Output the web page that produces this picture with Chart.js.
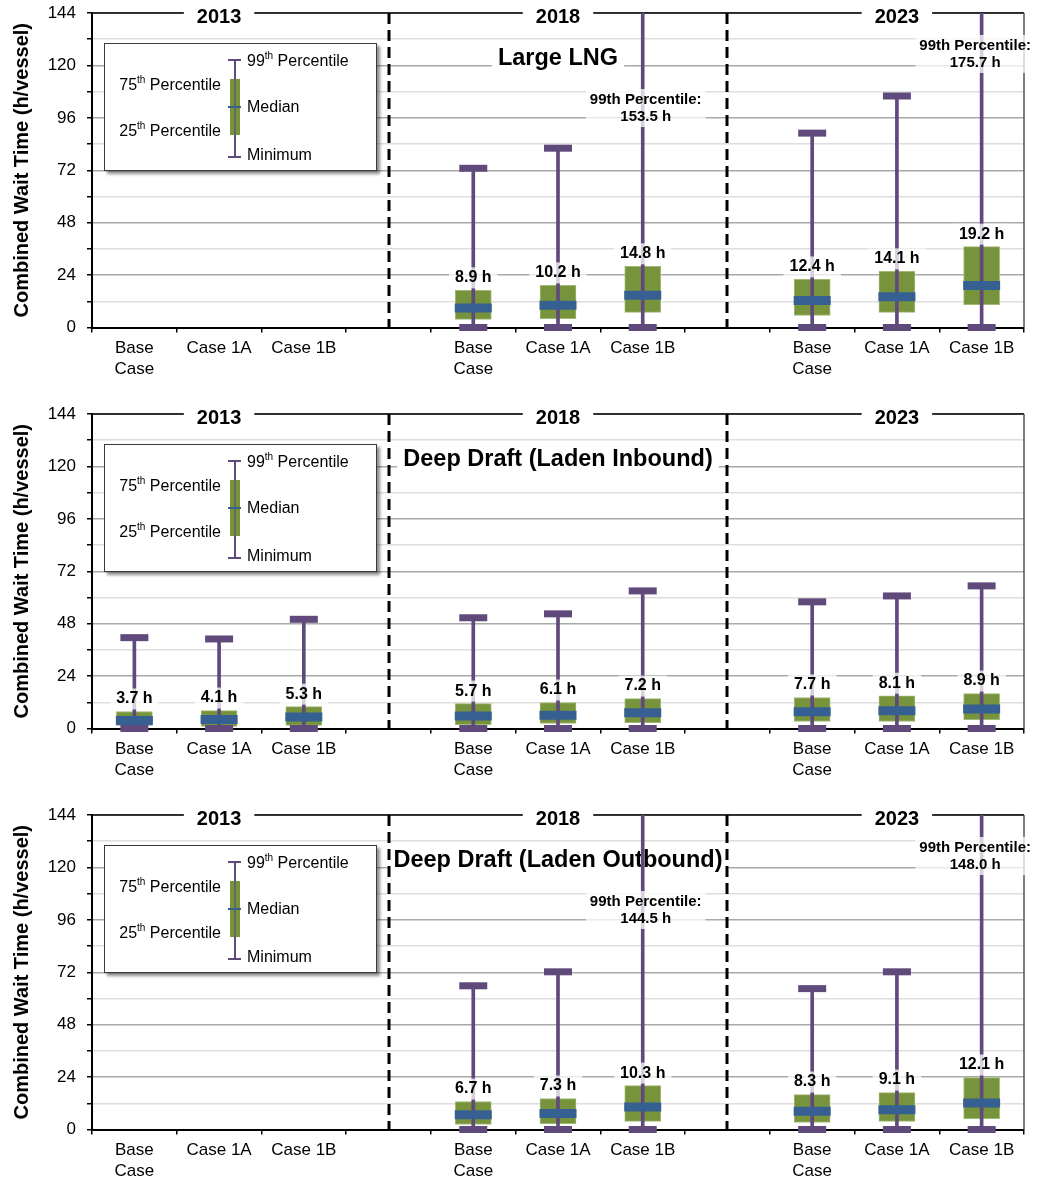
<!DOCTYPE html>
<html>
<head>
<meta charset="utf-8">
<script src="https://cdn.jsdelivr.net/npm/chart.js@4/dist/chart.umd.min.js"></script>
<style>
html,body{margin:0;padding:0;background:#fff;overflow:hidden;}
.panel{position:relative;width:1042px;height:401px;}
.panel canvas{position:absolute;left:0;top:0;}
.legend{position:absolute;left:104px;top:43px;width:271px;height:126px;border:1px solid #3a3a3a;background:#fff;box-shadow:3px 3px 3px rgba(0,0,0,0.45);font-family:"Liberation Sans",Arial,sans-serif;font-size:16px;color:#000;}
.legend .t{position:absolute;line-height:18px;white-space:nowrap;}
.legend sup{font-size:10px;line-height:0;position:relative;top:-1px;}
.legend .g{position:absolute;}
</style>
</head>
<body>
<div class="panel"><canvas id="c1" width="1042" height="401"></canvas><div class="legend" id="l1"></div></div>
<div class="panel"><canvas id="c2" width="1042" height="401"></canvas><div class="legend" id="l2"></div></div>
<div class="panel"><canvas id="c3" width="1042" height="401"></canvas><div class="legend" id="l3"></div></div>
<script>
// ---------- data ----------
const categories = [['Base','Case'], 'Case 1A', 'Case 1B', '', ['Base','Case'], 'Case 1A', 'Case 1B', '', ['Base','Case'], 'Case 1A', 'Case 1B'];
const years = ['2013', '2018', '2023'];
const yearCenterIndex = [1, 5, 9];
const separatorIndex = [3, 7];
const titleIndex = 5;
const Y_MAX = 144;
const Y_STEP = 12;
const Y_LABEL_STEP = 24;
const yTitle = 'Combined Wait Time (h/vessel)';

const panelTitles = ['Large LNG', 'Deep Draft (Laden Inbound)', 'Deep Draft (Laden Outbound)'];

// Large LNG
const lngMin    = [null, null, null, null, 0,    0,    0,     null, 0,    0,    0];
const lngQ1     = [null, null, null, null, 3.7,  4.1,  6.9,   null, 5.5,  6.9,  10.5];
const lngMedian = [null, null, null, null, 8.9,  10.2, 14.8,  null, 12.4, 14.1, 19.2];
const lngQ3     = [null, null, null, null, 17.0, 19.3, 28.0,  null, 22.0, 25.7, 37.0];
const lngP99    = [null, null, null, null, 72.9, 82.1, 153.5, null, 89.0, 106.0, 175.7];

// Deep Draft (Laden Inbound)
const inMin    = [0,    0,    0,    null, 0,    0,    0,    null, 0,    0,    0];
const inQ1     = [1.4,  1.0,  1.4,  null, 1.8,  2.3,  2.7,  null, 3.2,  3.2,  4.1];
const inMedian = [3.7,  4.1,  5.3,  null, 5.7,  6.1,  7.2,  null, 7.7,  8.1,  8.9];
const inQ3     = [7.8,  8.2,  10.0, null, 11.4, 11.9, 13.7, null, 14.2, 15.0, 16.0];
const inP99    = [41.6, 41.0, 50.0, null, 50.7, 52.5, 63.0, null, 58.0, 60.7, 65.3];

// Deep Draft (Laden Outbound)
const outMin    = [null, null, null, null, 0,    0,    0,     null, 0,    0,    0];
const outQ1     = [null, null, null, null, 2.3,  2.7,  3.7,   null, 3.2,  3.7,  5.0];
const outMedian = [null, null, null, null, 6.7,  7.3,  10.3,  null, 8.3,  9.1,  12.1];
const outQ3     = [null, null, null, null, 12.8, 14.2, 20.1,  null, 16.0, 16.9, 23.8];
const outP99    = [null, null, null, null, 65.8, 72.2, 144.5, null, 64.5, 72.2, 148.0];

// ---------- style ----------
const FONT = '"Liberation Sans", Arial, sans-serif';
const GREEN = '#77933C', BLUE = '#376092', PURPLE = '#604A7B';
Chart.defaults.font.family = FONT;
Chart.defaults.color = '#000';

const overlayPlugin = {
  id: 'overlay',
  beforeDatasetsDraw(chart, args, opts) {
    const {ctx, chartArea: a, scales: {x}} = chart;
    ctx.save();
    // plot frame top/right
    ctx.strokeStyle = '#000'; ctx.lineWidth = 1.5;
    ctx.beginPath(); ctx.moveTo(a.left, a.top); ctx.lineTo(a.right, a.top); ctx.stroke();
    ctx.strokeStyle = '#555'; ctx.lineWidth = 1.5;
    ctx.beginPath(); ctx.moveTo(a.right, a.top); ctx.lineTo(a.right, a.bottom); ctx.stroke();
    // title background
    ctx.font = 'bold 23.5px ' + FONT;
    ctx.textAlign = 'center'; ctx.textBaseline = 'middle';
    const tx = x.getPixelForValue(titleIndex), ty = a.top + 46;
    const tw = ctx.measureText(opts.title).width;
    ctx.fillStyle = '#fff';
    ctx.fillRect(tx - tw / 2 - 6, ty - 14, tw + 12, 28);
    // dashed separators
    ctx.setLineDash([11, 6]); ctx.lineWidth = 3; ctx.strokeStyle = '#000';
    separatorIndex.forEach(i => {
      const px = Math.round(x.getPixelForValue(i));
      ctx.beginPath(); ctx.moveTo(px, a.top); ctx.lineTo(px, a.bottom); ctx.stroke();
    });
    ctx.setLineDash([]);
    ctx.fillStyle = '#000';
    ctx.fillText(opts.title, tx, ty);
    // year labels on top border
    ctx.font = 'bold 20px ' + FONT;
    years.forEach((yr, g) => {
      const px = x.getPixelForValue(yearCenterIndex[g]);
      const w = ctx.measureText(yr).width;
      ctx.fillStyle = '#fff';
      ctx.fillRect(px - w / 2 - 13, a.top - 4, w + 26, 14);
      ctx.fillStyle = '#000';
      ctx.fillText(yr, px, a.top + 4);
    });
    ctx.restore();
  },
  afterDatasetsDraw(chart, args, opts) {
    const {ctx, chartArea: a, scales: {x, y}} = chart;
    const d = opts.data;
    ctx.save();
    ctx.textAlign = 'center'; ctx.textBaseline = 'middle';
    // median labels
    ctx.font = 'bold 16px ' + FONT;
    d.median.forEach((m, i) => {
      if (m == null) return;
      const txt = m.toFixed(1) + ' h';
      const px = x.getPixelForValue(i), py = y.getPixelForValue(d.q3[i]) - 12.5;
      const w = ctx.measureText(txt).width;
      ctx.fillStyle = 'rgba(255,255,255,0.75)';
      ctx.fillRect(px - w / 2 - 6, py - 10.5, w + 12, 21);
      ctx.fillStyle = '#000';
      ctx.fillText(txt, px, py);
    });
    // off-scale 99th percentile labels
    ctx.font = 'bold 15px ' + FONT;
    d.p99.forEach((v, i) => {
      if (v == null || v <= Y_MAX) return;
      const lines = ['99th Percentile:', v.toFixed(1) + ' h'];
      const w = Math.max(...lines.map(l => ctx.measureText(l).width));
      const cx = Math.min(x.getPixelForValue(i) + 3, chart.width - 11 - w / 2);
      const cy = a.top + (i > separatorIndex[1] ? 41 : 95);
      ctx.fillStyle = 'rgba(255,255,255,0.75)';
      ctx.fillRect(cx - w / 2 - 4, cy - 19, w + 8, 38);
      ctx.fillStyle = '#000';
      ctx.fillText(lines[0], cx, cy - 8.5);
      ctx.fillText(lines[1], cx, cy + 8.5);
    });
    ctx.restore();
  }
};

function makePanel(id, title, d) {
  const capTop = d.p99.map(v => (v != null && v <= Y_MAX) ? v : null);
  new Chart(document.getElementById(id), {
    type: 'bar',
    data: {
      labels: categories,
      datasets: [
        {type: 'line', label: 'Median', data: d.median, showLine: false, pointStyle: 'line',
         pointRadius: 18.5, pointBorderWidth: 9, pointBorderColor: BLUE, pointBackgroundColor: BLUE, order: 1, clip: false},
        {type: 'line', label: '99th', data: capTop, showLine: false, pointStyle: 'line',
         pointRadius: 14, pointBorderWidth: 7, pointBorderColor: PURPLE, pointBackgroundColor: PURPLE, order: 2, clip: false},
        {type: 'line', label: 'Minimum', data: d.min, showLine: false, pointStyle: 'line',
         pointRadius: 14, pointBorderWidth: 7, pointBorderColor: PURPLE, pointBackgroundColor: PURPLE, order: 2, clip: false},
        {type: 'bar', label: 'Whisker', data: d.min.map((v, i) => v == null ? null : [v, d.p99[i]]),
         barThickness: 3, backgroundColor: PURPLE, grouped: false, order: 3},
        {type: 'bar', label: 'IQR', data: d.q1.map((v, i) => v == null ? null : [v, d.q3[i]]),
         barThickness: 36, backgroundColor: GREEN, borderColor: '#9fba73', borderWidth: 1, borderSkipped: false,
         grouped: false, order: 4}
      ]
    },
    options: {
      responsive: false,
      maintainAspectRatio: false,
      devicePixelRatio: 1,
      animation: false,
      events: [],
      layout: {autoPadding: false, padding: {top: 13, right: 18, bottom: 0, left: 0}},
      plugins: {
        legend: {display: false},
        tooltip: {enabled: false},
        overlay: {title: title, data: d}
      },
      scales: {
        x: {
          type: 'category',
          offset: true,
          grid: {offset: true, drawOnChartArea: false, tickLength: 5, color: '#000', lineWidth: 1.5},
          border: {color: '#000', width: 2},
          ticks: {font: {size: 17, lineHeight: 1.25}, color: '#000', padding: 5, maxRotation: 0, autoSkip: false},
          afterFit: s => { s.height = 73.5; s.paddingLeft = 0; s.paddingRight = 0; s.paddingTop = 0; s.paddingBottom = 0; }
        },
        y: {
          min: 0, max: Y_MAX,
          grid: {
            color: c => (c.tick && c.tick.value % Y_LABEL_STEP === 0) ? '#a9a9a9' : '#dedede',
            lineWidth: 1.5, tickLength: 5, tickColor: '#000', tickWidth: 1.5
          },
          border: {color: '#000', width: 2},
          ticks: {stepSize: Y_STEP, autoSkip: false, font: {size: 17}, color: '#000', padding: 11,
                  callback: v => v % Y_LABEL_STEP === 0 ? v : ''},
          title: {display: true, text: yTitle, font: {size: 20, weight: 'bold'}, color: '#000', padding: {top: 10, bottom: 0}},
          afterFit: s => { s.width = 92; s.paddingTop = 0; s.paddingBottom = 0; s.paddingLeft = 0; s.paddingRight = 0; }
        }
      }
    },
    plugins: [overlayPlugin]
  });
}

function makeLegend(id) {
  const el = document.getElementById(id);
  el.innerHTML =
    '<div class="g" style="left:129px;top:16px;width:2px;height:97px;background:' + PURPLE + '"></div>' +
    '<div class="g" style="left:123px;top:14.75px;width:13px;height:2.5px;background:' + PURPLE + '"></div>' +
    '<div class="g" style="left:123px;top:111.75px;width:13px;height:2.5px;background:' + PURPLE + '"></div>' +
    '<div class="g" style="left:125px;top:35px;width:10px;height:56px;background:' + GREEN + '"></div>' +
    '<div class="g" style="left:129px;top:35px;width:2px;height:56px;background:' + PURPLE + ';opacity:0.6"></div>' +
    '<div class="g" style="left:123px;top:61.75px;width:13px;height:2.5px;background:' + BLUE + '"></div>' +
    '<div class="t" style="left:142px;top:8px">99<sup>th</sup> Percentile</div>' +
    '<div class="t" style="right:155px;top:32px">75<sup>th</sup> Percentile</div>' +
    '<div class="t" style="left:142px;top:54px">Median</div>' +
    '<div class="t" style="right:155px;top:78px">25<sup>th</sup> Percentile</div>' +
    '<div class="t" style="left:142px;top:102px">Minimum</div>';
}

makePanel('c1', panelTitles[0], {min: lngMin, q1: lngQ1, median: lngMedian, q3: lngQ3, p99: lngP99});
makePanel('c2', panelTitles[1], {min: inMin, q1: inQ1, median: inMedian, q3: inQ3, p99: inP99});
makePanel('c3', panelTitles[2], {min: outMin, q1: outQ1, median: outMedian, q3: outQ3, p99: outP99});
['l1', 'l2', 'l3'].forEach(makeLegend);
</script>
</body>
</html>
